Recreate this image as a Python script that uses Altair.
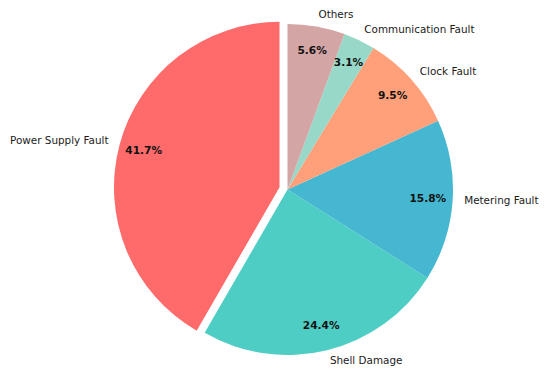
import altair as alt
import pandas as pd

categories = ["Power Supply Fault", "Shell Damage", "Metering Fault",
              "Clock Fault", "Communication Fault", "Others"]
values = [41.7, 24.4, 15.8, 9.5, 3.1, 5.6]
colors = ["#FF6B6B", "#4ECDC4", "#45B7D1", "#FFA07A", "#98D8C8", "#D4A5A5"]
exploded = "Power Supply Fault"

# layout constants (chart coordinates)
CX, CY, R = 279.5, 181.5, 165.5
EXPLODE = 0.05
LABEL_D = 1.07
PCT_D = 0.85

n = len(categories)
# Vega draws clockwise from 12 o'clock; reverse to mimic counter-clockwise order
df = pd.DataFrame({
    "category": categories,
    "value": values,
    "order": [n - i for i in range(n)],
})

base = alt.Chart(df).transform_joinaggregate(
    total="sum(value)"
).transform_window(
    cum="sum(value)", sort=[alt.SortField("order", order="ascending")],
    frame=[None, 0]
).transform_calculate(
    t2="datum.cum / datum.total * 2 * PI",
    t1="(datum.cum - datum.value) / datum.total * 2 * PI",
    pct="format(datum.value / datum.total * 100, '.1f') + '%'",
).transform_calculate(
    mid="(datum.t1 + datum.t2) / 2",
    ex=f"datum.category == '{exploded}' ? {EXPLODE * R} : 0",
).transform_calculate(
    cx=f"{CX} + datum.ex * sin(datum.mid)",
    cy=f"{CY} - datum.ex * cos(datum.mid)",
).transform_calculate(
    lx=f"datum.cx + {LABEL_D * R} * sin(datum.mid)",
    ly=f"datum.cy - {LABEL_D * R} * cos(datum.mid)",
    px=f"datum.cx + {PCT_D * R} * sin(datum.mid)",
    py=f"datum.cy - {PCT_D * R} * cos(datum.mid)",
)

X_cx = alt.X("cx:Q", scale=None, axis=None)
Y_cy = alt.Y("cy:Q", scale=None, axis=None)

arcs = base.mark_arc(radius=R).encode(
    theta=alt.Theta("t1:Q", scale=None),
    theta2="t2:Q",
    x=X_cx,
    y=Y_cy,
    color=alt.Color("category:N",
                    scale=alt.Scale(domain=categories, range=colors),
                    legend=None),
)

label_font = dict(font="DejaVu Sans", fontSize=10.4, color="#1a1a1a",
                  baseline="middle")

labels_right = base.transform_filter("sin(datum.mid) >= 0").mark_text(
    align="left", **label_font
).encode(
    x=alt.X("lx:Q", scale=None, axis=None),
    y=alt.Y("ly:Q", scale=None, axis=None),
    text="category:N",
)
labels_left = base.transform_filter("sin(datum.mid) < 0").mark_text(
    align="right", **label_font
).encode(
    x=alt.X("lx:Q", scale=None, axis=None),
    y=alt.Y("ly:Q", scale=None, axis=None),
    text="category:N",
)

pcts = base.mark_text(
    align="center", baseline="middle", font="DejaVu Sans",
    fontSize=10.6, fontWeight="bold", color="#111111"
).encode(
    x=alt.X("px:Q", scale=None, axis=None),
    y=alt.Y("py:Q", scale=None, axis=None),
    text="pct:N",
)

chart = alt.layer(arcs, labels_right, labels_left, pcts).properties(
    width=532, height=359,
    autosize=alt.AutoSizeParams(type="none"),
    padding=0,
).configure_view(strokeWidth=0, stroke="transparent").configure_axis(
    domain=False, grid=False, ticks=False, labels=False
)

chart.save("out.html", embed_options={"renderer": "svg", "actions": False})
